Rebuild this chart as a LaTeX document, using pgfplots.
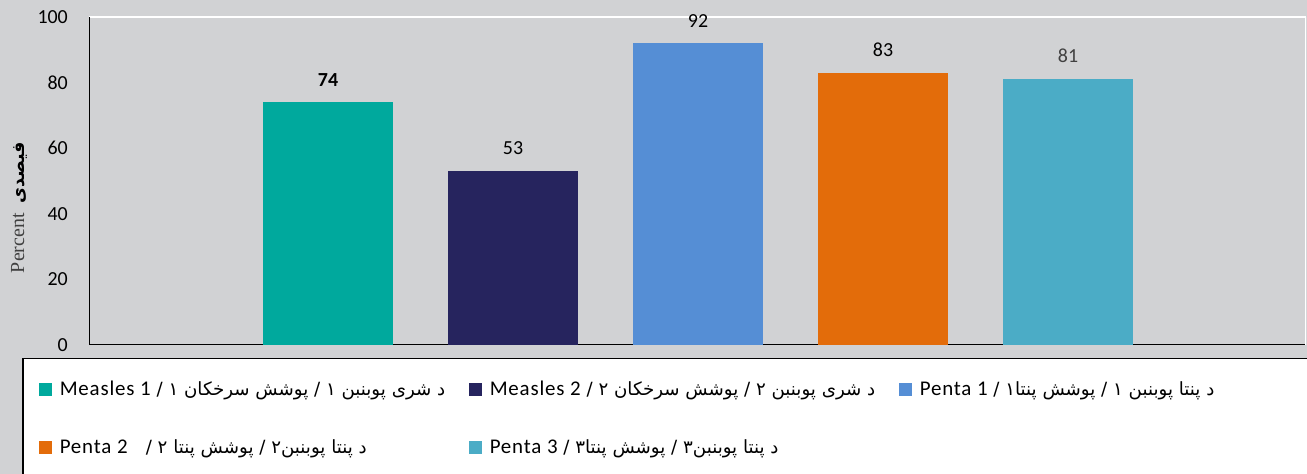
\documentclass[border=0pt]{standalone}
\usepackage{pgfplots}
\pgfplotsset{compat=1.18}
\usepackage{fontspec}
\setmainfont{Carlito}
\newfontfamily\arabicfont[Script=Arabic, Scale=0.87]{DejaVu Sans}
\newfontfamily\timesfont{Liberation Serif}
\newfontfamily\spaced[LetterSpace=4]{Carlito}
\TeXXeTstate=1

\definecolor{bggray}{HTML}{D1D2D4}
\definecolor{baseline}{HTML}{C6D3E4}
\definecolor{measlesA}{HTML}{00A99D}
\definecolor{measlesB}{HTML}{26245E}
\definecolor{pentaA}{HTML}{558ED5}
\definecolor{pentaB}{HTML}{E36C0A}
\definecolor{pentaC}{HTML}{4BACC6}
\definecolor{darkgray}{HTML}{404040}

% fixed-width legend cell, so the three columns sit 430bp apart
\newcommand{\entry}[1]{\makebox[409bp][l]{\fontsize{21}{25}\selectfont #1}}

\begin{document}
\begin{tikzpicture}[x=1bp,y=1bp]
\fill[bggray] (0,0) rectangle (1307,474);
\begin{axis}[
    at={(89bp,129bp)}, anchor=south west,
    width=1217bp, height=328bp, scale only axis,
    xmin=-0.292, xmax=6.286,
    ymin=0, ymax=100,
    xtick=\empty,
    ytick={0,20,40,60,80,100},
    major tick length=0pt,
    axis line style={draw=none},
    axis background/.style={fill=bggray},
    /pgf/number format/assume math mode=true,
    yticklabel style={font=\fontsize{20}{24}\selectfont, inner sep=0pt, anchor=east, xshift=-21bp},
    every node near coord/.append style={font=\fontsize{20}{24}\selectfont, inner sep=0pt, anchor=south, yshift=16bp, text=black},
    legend columns=3,
    legend cell align=left,
    legend style={at={(axis description cs:-0.05505,-0.03963)}, anchor=north west,
        fill=white, draw=black, line width=1.5bp,
        inner xsep=16bp, inner ysep=22bp,
        row sep=38bp, column sep=0pt,
        nodes={inner sep=0pt, text height=15bp, text depth=5bp}},
    legend image code/.code={\fill[#1] (0bp,-5bp) rectangle (13bp,8bp); \path (21bp,0bp);},
  ]
  \draw[baseline, line width=2bp] (rel axis cs:0,0) -- (rel axis cs:1,0);

  \addplot[ybar, bar width=130bp, fill=measlesA, draw=none, nodes near coords,
    every node near coord/.append style={font=\bfseries\fontsize{20}{24}\selectfont}]
    coordinates {(1,74)};
  \addlegendentry{\entry{\beginR{\arabicfont د شری پوبنبن ۱ / پوشش سرخکان ۱ / }\beginL{\spaced Measles 1}\endL\endR}}

  \addplot[ybar, bar width=130bp, fill=measlesB, draw=none, nodes near coords]
    coordinates {(2,53)};
  \addlegendentry{\entry{\beginR{\arabicfont د شری پوبنبن ۲ / پوشش سرخکان ۲ / }\beginL{\spaced Measles 2}\endL\endR}}

  \addplot[ybar, bar width=130bp, fill=pentaA, draw=none, nodes near coords]
    coordinates {(3,92)};
  \addlegendentry{\entry{\beginR{\arabicfont د پنتا  پوبنبن ۱ / پوشش پنتا۱ / }\beginL{\spaced Penta 1}\endL\endR}}

  \addplot[ybar, bar width=130bp, fill=pentaB, draw=none, nodes near coords]
    coordinates {(4,83)};
  \addlegendentry{\entry{\beginR{\arabicfont د پنتا  پوبنبن۲ / پوشش پنتا ۲ /\quad}\beginL{\spaced Penta 2}\endL\endR}}

  \addplot[ybar, bar width=130bp, fill=pentaC, draw=none, nodes near coords,
    every node near coord/.append style={text=darkgray}]
    coordinates {(5,81)};
  \addlegendentry{\entry{\beginR{\arabicfont د پنتا پوبنبن۳ / پوشش پنتا۳ / }\beginL{\spaced Penta 3}\endL\endR}}

  \draw[white, line width=2bp] (rel axis cs:0,1) -- (rel axis cs:1,1);
  \draw[white, line width=1.5bp] (rel axis cs:1,0) -- (rel axis cs:1,1);
  \draw[black, line width=1.5bp] (rel axis cs:0,0) -- (rel axis cs:0,1);
\end{axis}
% y axis title, bilingual
\node[rotate=90, anchor=center, inner sep=0pt] at (19,266.5)
  {\fontsize{20}{24}\selectfont{\timesfont\color{darkgray}Percent}\hspace{10bp}{\arabicfont\bfseries\beginR فیصدی\endR}};
\pgfresetboundingbox
\path[use as bounding box] (0,0) rectangle (1307,474);
\end{tikzpicture}
\end{document}
